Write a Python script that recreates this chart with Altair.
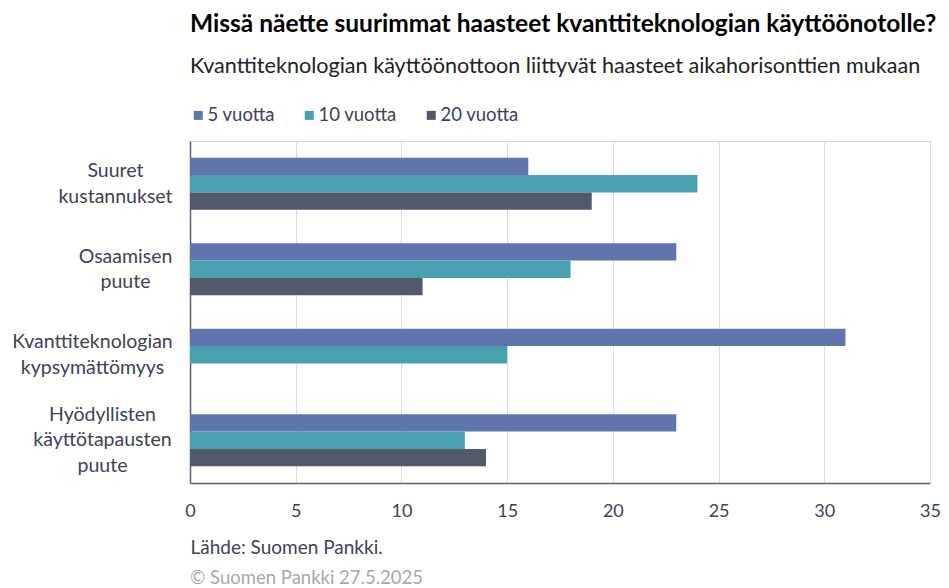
import altair as alt
import pandas as pd

categories = ["Suuret kustannukset", "Osaamisen puute",
              "Kvanttiteknologian kypsymättömyys",
              "Hyödyllisten käyttötapausten puute"]
series_names = ["5 vuotta", "10 vuotta", "20 vuotta"]
values_5 = [16, 23, 31, 23]
values_10 = [24, 18, 15, 13]
values_20 = [19, 11, None, 14]
colors = ["#6074AD", "#48A0B1", "#525A69"]

title_text = "Missä näette suurimmat haasteet kvanttiteknologian käyttöönotolle?"
subtitle_text = "Kvanttiteknologian käyttöönottoon liittyvät haasteet aikahorisonttien mukaan"
source_text = "Lähde: Suomen Pankki."
copyright_text = "© Suomen Pankki 27.5.2025"

rows = []
for name, vals in zip(series_names, [values_5, values_10, values_20]):
    for c, v in zip(categories, vals):
        if v is not None:
            rows.append({"category": c, "series": name, "value": v})
df = pd.DataFrame(rows)

FONT = "Lato"
TXT = "#3B4259"
W, H = 740, 342

# per-label centring distance of the multi-line y labels (styling)
label_pad = {categories[0]: 75, categories[1]: 65, categories[2]: 98}
pad_cond = {
    "condition": [{"test": f"datum.value === '{k}'", "value": v} for k, v in label_pad.items()],
    "value": 88,
}
offset_cond = {
    "condition": {"test": "length(split(datum.value, ' ')) == 3", "value": -25.5},
    "value": -12.75,
}

bars = alt.Chart(df).mark_bar().encode(
    x=alt.X("value:Q",
            scale=alt.Scale(domain=[0, 35], nice=False),
            axis=alt.Axis(values=[0, 5, 10, 15, 20, 25, 30, 35], grid=True,
                          gridColor="#DCDCE0", ticks=False, domainColor="#5A6070",
                          domainWidth=1.5, labelFontSize=18, labelColor=TXT,
                          labelFont=FONT, labelPadding=19, labelFlush=False,
                          title=source_text, titleAnchor="start", titleAlign="left",
                          titleFontSize=19, titleFontWeight="normal", titleColor=TXT,
                          titleFont=FONT, titlePadding=18)),
    y=alt.Y("category:N", sort=categories,
            scale=alt.Scale(paddingInner=0.39, paddingOuter=0.195),
            axis=alt.Axis(title=None, ticks=False, domainColor="#5A6070", domainWidth=1.5,
                          labelExpr="split(datum.label, ' ')", labelFontSize=19.5,
                          labelColor=TXT, labelFont=FONT, labelLineHeight=25.5,
                          labelPadding=pad_cond, labelOffset=offset_cond,
                          labelAlign="center", labelLimit=300)),
    yOffset=alt.YOffset("series:N", sort=series_names,
                        scale=alt.Scale(paddingInner=0, paddingOuter=0)),
    color=alt.Color("series:N", sort=series_names,
                    scale=alt.Scale(domain=series_names, range=colors),
                    legend=alt.Legend(title=None, orient="none", legendX=-1, legendY=-35,
                                      direction="horizontal", symbolType="square",
                                      symbolSize=81, symbolStrokeWidth=0,
                                      labelFontSize=18.5, labelColor=TXT, labelFont=FONT,
                                      columnPadding=25, labelOffset=0)),
)

copyright_df = pd.DataFrame({"t": [copyright_text]})
copy_mark = alt.Chart(copyright_df).mark_text(
    align="left", baseline="alphabetic", fontSize=18.5, color="#A8A8A8", font=FONT
).encode(text="t:N", x=alt.value(0), y=alt.value(H + 101))

chart = alt.layer(bars, copy_mark).properties(
    width=W, height=H,
    autosize=alt.AutoSizeParams(type="none"),
    padding={"left": 182, "top": 133, "right": 11, "bottom": 106},
    title=alt.TitleParams(text=title_text, subtitle=subtitle_text, anchor="start",
                          frame="group", fontSize=24.5, fontWeight="bold", color="#000000",
                          font=FONT, subtitleFont=FONT, subtitleFontSize=21.6,
                          subtitleColor="#222222", subtitlePadding=19, offset=27),
).configure_view(stroke="#D4D4DA", strokeWidth=1)

chart.save("out.html", embed_options={"renderer": "svg", "actions": False})
